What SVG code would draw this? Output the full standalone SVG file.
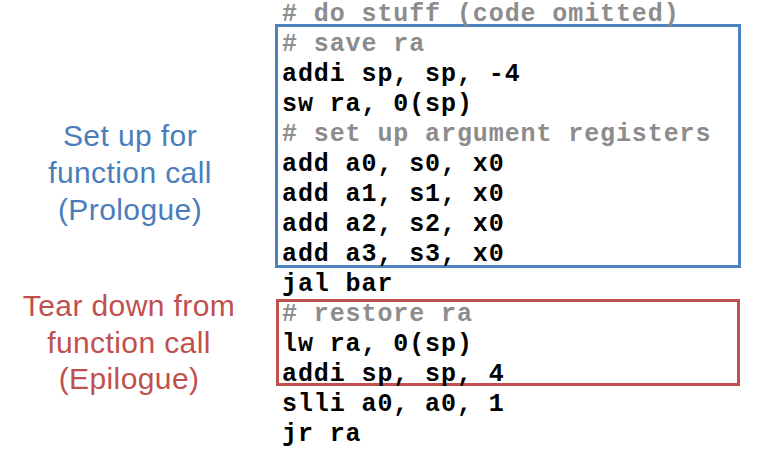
<svg xmlns="http://www.w3.org/2000/svg" width="766" height="455" viewBox="0 0 766 455">
<style>
.code{font-family:"Liberation Mono","Courier New",monospace;font-weight:bold;font-size:25px;letter-spacing:0.9px;fill:#000}
.cmt{fill:#8c8c8c}
.lbl{font-family:"Liberation Sans",Arial,sans-serif;font-size:30px;letter-spacing:0.4px;text-anchor:middle}
.blue{fill:#4a7ebb}
.red{fill:#c0504d}
</style>
<rect width="766" height="455" fill="#fff"/>
<g id="prologue-box">
<rect x="276.5" y="25.5" width="463" height="241" fill="none" stroke="#4f81bd" stroke-width="3"/>
</g>
<g id="epilogue-box">
<rect x="277.5" y="300.5" width="461" height="84" fill="none" stroke="#c0504d" stroke-width="3"/>
</g>
<g id="code">
<text class="code cmt" x="282" y="21"># do stuff (code omitted)</text>
<text class="code cmt" x="282" y="51"># save ra</text>
<text class="code" x="282" y="81">addi sp, sp, -4</text>
<text class="code" x="282" y="111">sw ra, 0(sp)</text>
<text class="code cmt" x="282" y="141"># set up argument registers</text>
<text class="code" x="282" y="171">add a0, s0, x0</text>
<text class="code" x="282" y="201">add a1, s1, x0</text>
<text class="code" x="282" y="231">add a2, s2, x0</text>
<text class="code" x="282" y="261">add a3, s3, x0</text>
<text class="code" x="282" y="291">jal bar</text>
<text class="code cmt" x="282" y="321"># restore ra</text>
<text class="code" x="282" y="351">lw ra, 0(sp)</text>
<text class="code" x="282" y="381">addi sp, sp, 4</text>
<text class="code" x="282" y="411">slli a0, a0, 1</text>
<text class="code" x="282" y="441">jr ra</text>
</g>
<g id="prologue-label">
<text class="lbl blue" x="130" y="146">Set up for</text>
<text class="lbl blue" x="130" y="183">function call</text>
<text class="lbl blue" x="130" y="220">(Prologue)</text>
</g>
<g id="epilogue-label">
<text class="lbl red" x="129" y="316">Tear down from</text>
<text class="lbl red" x="129" y="353">function call</text>
<text class="lbl red" x="129" y="389">(Epilogue)</text>
</g>
</svg>
